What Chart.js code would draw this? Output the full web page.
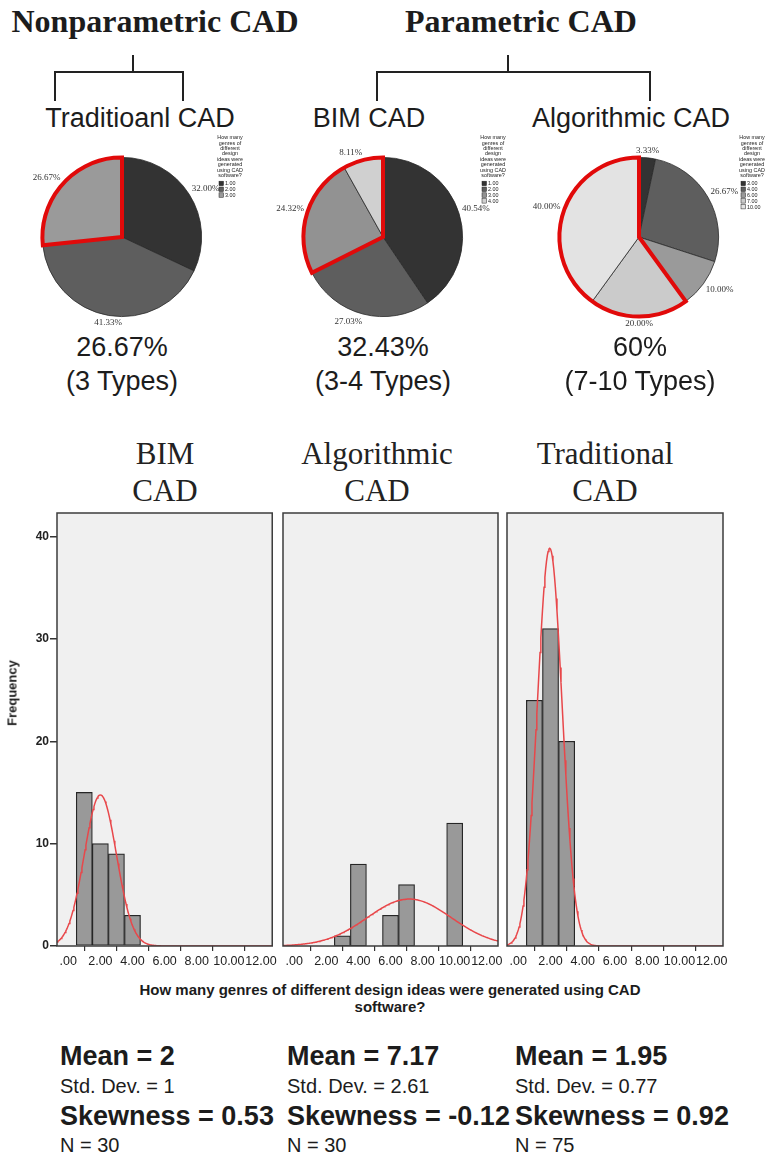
<!DOCTYPE html>
<html>
<head>
<meta charset="utf-8">
<script src="https://cdn.jsdelivr.net/npm/chart.js@4.4.0/dist/chart.umd.min.js"></script>
<style>
  body { margin: 0; width: 767px; height: 1158px; position: relative; overflow: hidden; background: #fff;
         font-family: 'Liberation Sans', Arial, sans-serif; color: #1c1c1c; }
  .abs { position: absolute; white-space: nowrap; line-height: 1; }
  .mid { transform: translateX(-50%); text-align: center; }
  .serif { font-family: 'Liberation Serif', 'Times New Roman', serif; }
  .group { font-size: 32px; font-weight: bold; }
  .kind { font-size: 27px; }
  .share { font-size: 27px; }
  .htitle { font-size: 31px; line-height: 37px; color: #222; }
  .stat-big { font-size: 27px; font-weight: bold; }
  .stat-small { font-size: 20px; }
  canvas { position: absolute; }
</style>
</head>
<body>

<div class="abs mid serif group" style="left:155px;top:5px">Nonparametric CAD</div>
<div class="abs mid serif group" style="left:521px;top:5px">Parametric CAD</div>

<svg class="abs" width="767" height="110" style="left:0;top:0">
  <g stroke="#222" stroke-width="2" fill="none">
    <path d="M133 55 V72 M55 101 V72 H183 V101"/>
    <path d="M508 55 V72 M377 101 V72 H650 V101"/>
  </g>
</svg>

<div id="kinds"></div>
<canvas id="pieTrad" width="260" height="200" style="left:0;top:130px"></canvas>
<canvas id="pieBim" width="260" height="200" style="left:260px;top:130px"></canvas>
<canvas id="pieAlgo" width="252" height="200" style="left:515px;top:130px"></canvas>
<div id="shares"></div>

<div id="histTitles"></div>
<canvas id="histBim" width="280" height="480" style="left:0;top:500px"></canvas>
<canvas id="histAlgo" width="230" height="480" style="left:276px;top:500px"></canvas>
<canvas id="histTrad" width="250" height="480" style="left:500px;top:500px"></canvas>

<div class="abs" style="left:12px;top:693px;font-size:13px;font-weight:bold;transform:translate(-50%,-50%) rotate(-90deg)">Frequency</div>
<div class="abs mid" style="left:390px;top:981px;font-size:15px;font-weight:bold;line-height:17px">How many genres of different design ideas were generated using CAD<br>software?</div>

<div id="stats"></div>

<script>
// pie charts: share of respondents per number of idea genres
const pieKinds = ['Traditioanl CAD', 'BIM CAD', 'Algorithmic CAD']
const pieShare = ['26.67%', '32.43%', '60%']
const pieTypes = ['(3 Types)', '(3-4 Types)', '(7-10 Types)']

const tradLabels = ['1.00', '2.00', '3.00']
const tradPct = [32.00, 41.33, 26.67]
const bimLabels = ['1.00', '2.00', '3.00', '4.00']
const bimPct = [40.54, 27.03, 24.32, 8.11]
const algoLabels = ['3.00', '4.00', '6.00', '7.00', '10.00']
const algoPct = [3.33, 26.67, 10.00, 20.00, 40.00]

// histograms
const histNames = [['BIM', 'CAD'], ['Algorithmic', 'CAD'], ['Traditional', 'CAD']]
const bimBins = [1, 2, 3, 4]
const bimCounts = [15, 10, 9, 3]
const algoBins = [3, 4, 6, 7, 10]
const algoCounts = [1, 8, 3, 6, 12]
const tradBins = [1, 2, 3]
const tradCounts = [24, 31, 20]
const xTicks = [0, 2, 4, 6, 8, 10, 12]
const yTicks = [0, 10, 20, 30, 40]

const means = [2, 7.17, 1.95]
const stdDevs = [1, 2.61, 0.77]
const skews = ['0.53', '-0.12', '0.92']
const ns = [30, 30, 75]

const legendTitle = ['How many', 'genres of', 'different', 'design', 'ideas were', 'generated', 'using CAD', 'software?']

// ---- html text ----
const kindX = [140, 369, 631]
const shareX = [122, 383, 640]
var html = ''
pieKinds.forEach(function (k, i) {
  html += '<div class="abs mid kind" style="left:' + kindX[i] + 'px;top:105px">' + k + '</div>'
})
document.getElementById('kinds').innerHTML = html

html = ''
pieShare.forEach(function (s, i) {
  html += '<div class="abs mid share" style="left:' + shareX[i] + 'px;top:334px">' + s + '</div>'
  html += '<div class="abs mid share" style="left:' + shareX[i] + 'px;top:368px">' + pieTypes[i] + '</div>'
})
document.getElementById('shares').innerHTML = html

const titleX = [165, 377, 605]
html = ''
histNames.forEach(function (t, i) {
  html += '<div class="abs mid serif htitle" style="left:' + titleX[i] + 'px;top:435px">' + t[0] + '<br>' + t[1] + '</div>'
})
document.getElementById('histTitles').innerHTML = html

const statX = [60, 287, 515]
html = ''
means.forEach(function (m, i) {
  var x = statX[i]
  html += '<div class="abs stat-big" style="left:' + x + 'px;top:1043px">Mean = ' + m + '</div>'
  html += '<div class="abs stat-small" style="left:' + x + 'px;top:1076px">Std. Dev. = ' + stdDevs[i] + '</div>'
  html += '<div class="abs stat-big" style="left:' + x + 'px;top:1103px">Skewness = ' + skews[i] + '</div>'
  html += '<div class="abs stat-small" style="left:' + x + 'px;top:1135px">N = ' + ns[i] + '</div>'
})
document.getElementById('stats').innerHTML = html

// ---- pies ----
const pieExtras = {
  id: 'pieExtras',
  afterDatasetsDraw(chart, args, opts) {
    const ctx = chart.ctx
    const arcs = chart.getDatasetMeta(0).data
    const values = chart.data.datasets[0].data
    ctx.save()

    // red outline round the highlighted slices
    const first = arcs[opts.highlight[0]]
    const last = arcs[opts.highlight[opts.highlight.length - 1]]
    ctx.beginPath()
    ctx.moveTo(first.x, first.y)
    ctx.arc(first.x, first.y, first.outerRadius, first.startAngle, last.endAngle)
    ctx.closePath()
    ctx.lineWidth = 4
    ctx.lineJoin = 'miter'
    ctx.strokeStyle = '#e10a0a'
    ctx.stroke()

    // percentage labels outside the pie
    ctx.font = '9px "Liberation Serif", serif'
    ctx.fillStyle = '#333'
    arcs.forEach(function (arc, i) {
      const mid = (arc.startAngle + arc.endAngle) / 2
      const c = Math.cos(mid), s = Math.sin(mid)
      const rr = arc.outerRadius + 3
      ctx.textAlign = c > 0.25 ? 'left' : (c < -0.25 ? 'right' : 'center')
      ctx.textBaseline = s > 0.25 ? 'top' : (s < -0.25 ? 'bottom' : 'middle')
      ctx.fillText(values[i].toFixed(2) + '%', arc.x + c * rr, arc.y + s * rr)
    })

    // small legend
    const lx = opts.legendX
    let ly = 5
    ctx.font = '5.4px "Liberation Sans", sans-serif'
    ctx.textAlign = 'center'
    ctx.textBaseline = 'top'
    ctx.fillStyle = '#222'
    legendTitle.forEach(function (t) {
      ctx.fillText(t, lx, ly)
      ly += 5.4
    })
    ly += 3
    ctx.textAlign = 'left'
    chart.data.labels.forEach(function (lab, i) {
      ctx.fillStyle = chart.data.datasets[0].backgroundColor[i]
      ctx.fillRect(lx - 11, ly, 4.5, 4.5)
      ctx.strokeStyle = '#222'
      ctx.lineWidth = 0.5
      ctx.strokeRect(lx - 11, ly, 4.5, 4.5)
      ctx.fillStyle = '#222'
      ctx.fillText(lab, lx - 5, ly)
      ly += 5.8
    })
    ctx.restore()
  }
}

function renderPie(id, labels, data, colors, highlight, pad, legendX) {
  new Chart(document.getElementById(id), {
    type: 'pie',
    data: {
      labels: labels,
      datasets: [{
        data: data,
        backgroundColor: colors,
        borderColor: '#2a2a2a',
        borderWidth: 0.8,
        hoverOffset: 0
      }]
    },
    options: {
      responsive: false,
      animation: false,
      events: [],
      layout: { padding: pad },
      plugins: {
        legend: { display: false },
        tooltip: { enabled: false },
        pieExtras: { highlight: highlight, legendX: legendX }
      }
    },
    plugins: [pieExtras]
  })
}

renderPie('pieTrad', tradLabels, tradPct, ['#333333', '#5e5e5e', '#9a9a9a'], [2],
  { left: 42, right: 58, top: 27, bottom: 13 }, 230)
renderPie('pieBim', bimLabels, bimPct, ['#333333', '#5e5e5e', '#929292', '#d0d0d0'], [2, 3],
  { left: 43, right: 57, top: 27, bottom: 13 }, 233)
renderPie('pieAlgo', algoLabels, algoPct, ['#333333', '#5e5e5e', '#9a9a9a', '#cbcbcb', '#e3e3e3'], [3, 4],
  { left: 44, right: 48, top: 27, bottom: 13 }, 237)

// ---- histograms ----
const panelBox = {
  id: 'panelBox',
  beforeDraw(chart) {
    const a = chart.chartArea
    chart.ctx.save()
    chart.ctx.fillStyle = '#f0f0f0'
    chart.ctx.fillRect(a.left, a.top, a.right - a.left, a.bottom - a.top)
    chart.ctx.restore()
  },
  afterDraw(chart) {
    const a = chart.chartArea
    const ctx = chart.ctx
    ctx.save()
    ctx.strokeStyle = '#3c3c3c'
    ctx.lineWidth = 1.5
    ctx.strokeRect(a.left, a.top, a.right - a.left, a.bottom - a.top)
    ctx.restore()
  }
}

const X_MIN = -0.7, X_MAX = 12.7

// fitted normal curve from the reported mean and std. dev., scaled to the bar total
function normalCurve(mean, sd, total) {
  const pts = []
  for (let x = X_MIN; x <= X_MAX + 1e-9; x += 0.05) {
    const z = (x - mean) / sd
    pts.push({ x: x, y: total * Math.exp(-0.5 * z * z) / (sd * Math.sqrt(2 * Math.PI)) })
  }
  return pts
}

function renderHist(id, bins, counts, mean, sd, showY, pad) {
  const total = counts.reduce(function (a, b) { return a + b }, 0)
  new Chart(document.getElementById(id), {
    type: 'bar',
    data: {
      datasets: [{
        type: 'line',
        data: normalCurve(mean, sd, total),
        borderColor: '#e8474a',
        borderWidth: 1.5,
        pointRadius: 0,
        tension: 0,
        order: 0
      }, {
        type: 'bar',
        data: bins.map(function (b, i) { return { x: b, y: counts[i] } }),
        backgroundColor: '#999999',
        borderColor: '#262626',
        borderWidth: 1.2,
        borderSkipped: false,
        barPercentage: 1,
        categoryPercentage: 1,
        order: 1
      }]
    },
    options: {
      responsive: false,
      animation: false,
      events: [],
      layout: { padding: pad },
      plugins: { legend: { display: false }, tooltip: { enabled: false } },
      scales: {
        x: {
          type: 'linear',
          min: X_MIN,
          max: X_MAX,
          offset: false,
          afterBuildTicks: function (s) { s.ticks = xTicks.map(function (v) { return { value: v } }) },
          afterFit: function (s) { s.height = 34 },
          border: { display: false },
          grid: { drawOnChartArea: false, drawTicks: true, tickLength: 5, color: '#333', lineWidth: 1.2 },
          ticks: {
            padding: 3,
            maxRotation: 0,
            autoSkip: false,
            color: '#222',
            font: { size: 12.5, family: "'Liberation Sans', Arial, sans-serif" },
            callback: function (v) { return v.toFixed(2).replace(/^0/, '') }
          }
        },
        y: {
          display: showY,
          min: 0,
          max: 42.3,
          afterBuildTicks: function (s) { s.ticks = yTicks.map(function (v) { return { value: v } }) },
          afterFit: function (s) { s.width = showY ? 57 : 0 },
          border: { display: false },
          grid: { drawOnChartArea: false, drawTicks: true, tickLength: 7, color: '#333', lineWidth: 1.5 },
          ticks: {
            padding: 1,
            color: '#222',
            font: { size: 12, weight: 'bold', family: "'Liberation Sans', Arial, sans-serif" }
          }
        }
      }
    },
    plugins: [panelBox]
  })
}

renderHist('histBim', bimBins, bimCounts, means[0], stdDevs[0], true, { left: 0, right: 7, top: 13, bottom: 0 })
renderHist('histAlgo', algoBins, algoCounts, means[1], stdDevs[1], false, { left: 7, right: 8, top: 13, bottom: 0 })
renderHist('histTrad', tradBins, tradCounts, means[2], stdDevs[2], false, { left: 7, right: 27, top: 13, bottom: 0 })
</script>
</body>
</html>
